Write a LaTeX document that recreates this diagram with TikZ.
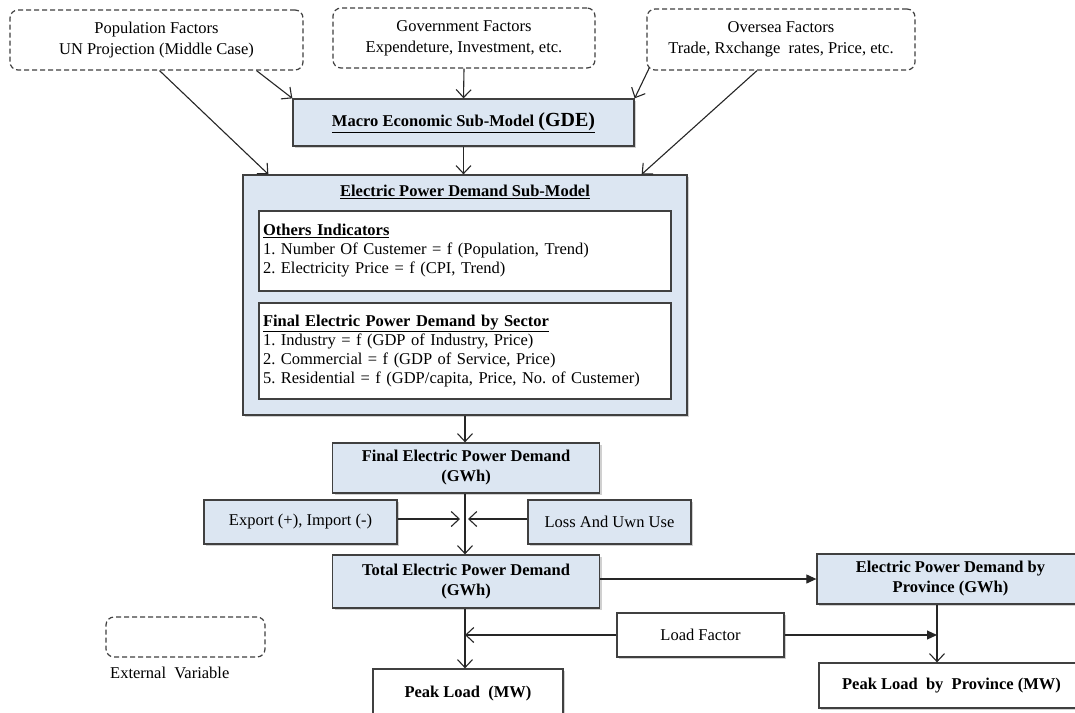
\documentclass[tikz,border=0pt]{standalone}
\usepackage{fontspec}
\setmainfont{Liberation Serif}
\usetikzlibrary{arrows.meta,shadows,calc}
\definecolor{boxblue}{HTML}{DCE6F2}
\definecolor{edge}{HTML}{404040}
\frenchspacing
\begin{document}
\begin{tikzpicture}[x=1pt,y=-1pt,
  every node/.style={font=\rmfamily\fontsize{16.5}{21}\selectfont, inner sep=0pt, align=center, text=black},
  extbox/.style={draw=edge, line width=1.2pt, dash pattern=on 5pt off 3pt, rounded corners=8pt},
  shade/.style={drop shadow={shadow xshift=2pt, shadow yshift=-2pt, fill=black!30, opacity=0.6}},
  bluebox/.style={draw=edge, fill=boxblue, line width=1.3pt, shade},
  whitebox/.style={draw=edge, fill=white, line width=1.3pt, shade},
  boldtext/.style={font=\rmfamily\fontsize{16.5}{20}\selectfont\bfseries},
  listbox/.style={draw=edge, fill=white, line width=1.3pt, align=left, inner xsep=4pt,
    font=\rmfamily\fontsize{16.5}{19}\selectfont},
  arr/.style={draw=black!85, line width=1.1pt, -{Straight Barb[length=8pt,width=15pt]}},
  farr/.style={draw=black!85, line width=1.1pt, -{Triangle[length=10pt,width=9pt]}}]
\useasboundingbox (0,0) rectangle (1075,712);
\clip (0,0) rectangle (1075,712);
\fill[white] (0,0) rectangle (1075,712);

% external inputs
\node[extbox, minimum width=293pt, minimum height=60pt] (pop) at (156.5,40)
  {Population Factors\\UN Projection (Middle Case)};
\node[extbox, minimum width=262pt, minimum height=60pt] (gov) at (464,38)
  {Government Factors\\Expendeture, Investment, etc.};
\node[extbox, minimum width=268pt, minimum height=61pt] (ovs) at (781,39.5)
  {Oversea Factors\\Trade, Rxchange\ \ rates, Price, etc.};

% macro model
\node[bluebox, minimum width=341pt, minimum height=47pt, boldtext] (mac) at (463.5,122.5)
  {\underline{Macro Economic Sub-Model {\fontsize{20}{22}\selectfont(GDE)}}};

% electric power demand sub-model
\node[bluebox, minimum width=444pt, minimum height=240pt] (epd) at (465,295) {};
\node[boldtext] (epdt) at (465,192) {\underline{Electric Power Demand Sub-Model}};
\node[listbox, text width=404pt, minimum height=80pt] (oth) at (465,251)
  {\textbf{\underline{Others Indicators}}\\
   1. Number Of Custemer = f (Population, Trend)\\
   2. Electricity Price = f (CPI, Trend)};
\node[listbox, text width=404pt, minimum height=96pt] (sec) at (465,351)
  {\textbf{\underline{Final Electric Power Demand by\ Sector}}\\
   1. Industry = f (GDP of Industry, Price)\\
   2. Commercial\ = f (GDP of Service,\ Price)\\
   5. Residential = f (GDP/capita, Price, No. of Custemer)};

% demand chain
\node[bluebox, minimum width=267pt, minimum height=50pt, boldtext] (fin) at (466,468)
  {Final Electric Power Demand\\(GWh)};
\node[bluebox, minimum width=193pt, minimum height=44pt] (exp) at (300.5,522) {Export (+), Import (-)};
\node[bluebox, minimum width=163pt, minimum height=44pt] (los) at (609.5,522) {Loss And Uwn Use};
\coordinate (jn) at (465,519);
\node[bluebox, minimum width=267pt, minimum height=53pt, boldtext] (tot) at (466,581.5)
  {Total Electric Power Demand\\(GWh)};
\node[bluebox, minimum width=267pt, minimum height=50pt, boldtext] (prv) at (950.5,579)
  {Electric Power Demand by\\Province (GWh)};
\node[whitebox, minimum width=167pt, minimum height=44pt] (lf) at (700.5,635) {Load Factor};
\node[whitebox, minimum width=190pt, minimum height=50pt, boldtext] (pk) at (468,694)
  {Peak Load\ \ (MW)};
\node[whitebox, minimum width=265pt, minimum height=45pt, boldtext] (ppk) at (951.5,685.5)
  {Peak Load\ \ by\ \ Province (MW)};

% legend
\node[extbox, minimum width=159pt, minimum height=40pt] (leg) at (185.5,637) {};
\node[anchor=west] (legt) at (110,673) {External\ \ Variable};

% connectors
\draw[arr] ([xshift=3pt]pop.south) -- ([xshift=26pt]epd.north west);
\draw[arr] ([xshift=100pt]pop.south) -- (mac.north west);
\draw[arr] (gov.south) -- (mac.north);
\draw[arr] ([xshift=3pt,yshift=3pt]ovs.south west) -- (mac.north east);
\draw[arr] ([xshift=-24pt]ovs.south) -- ([xshift=-46pt]epd.north east);
\draw[arr] (mac.south) -- (mac.south |- epd.north);
\draw[arr] (epd.south -| jn) -- (fin.north -| jn);
\draw[arr] (fin.south -| jn) -- (tot.north -| jn);
\draw[arr, shorten >=5pt] (exp.east |- jn) -- (jn);
\draw[arr, shorten >=3pt] (los.west |- jn) -- (jn);
\draw[farr] (tot.east |- prv.west) -- (prv.west);
\draw[arr] (tot.south -| jn) -- (pk.north -| jn);
\draw[arr] (lf.west) -- (lf.west -| jn);
\coordinate (pv) at ([xshift=-13.5pt]prv.south);
\draw[arr] (pv) -- (pv |- ppk.north);
\draw[farr] (lf.east) -- (lf.east -| pv);
\end{tikzpicture}
\end{document}
